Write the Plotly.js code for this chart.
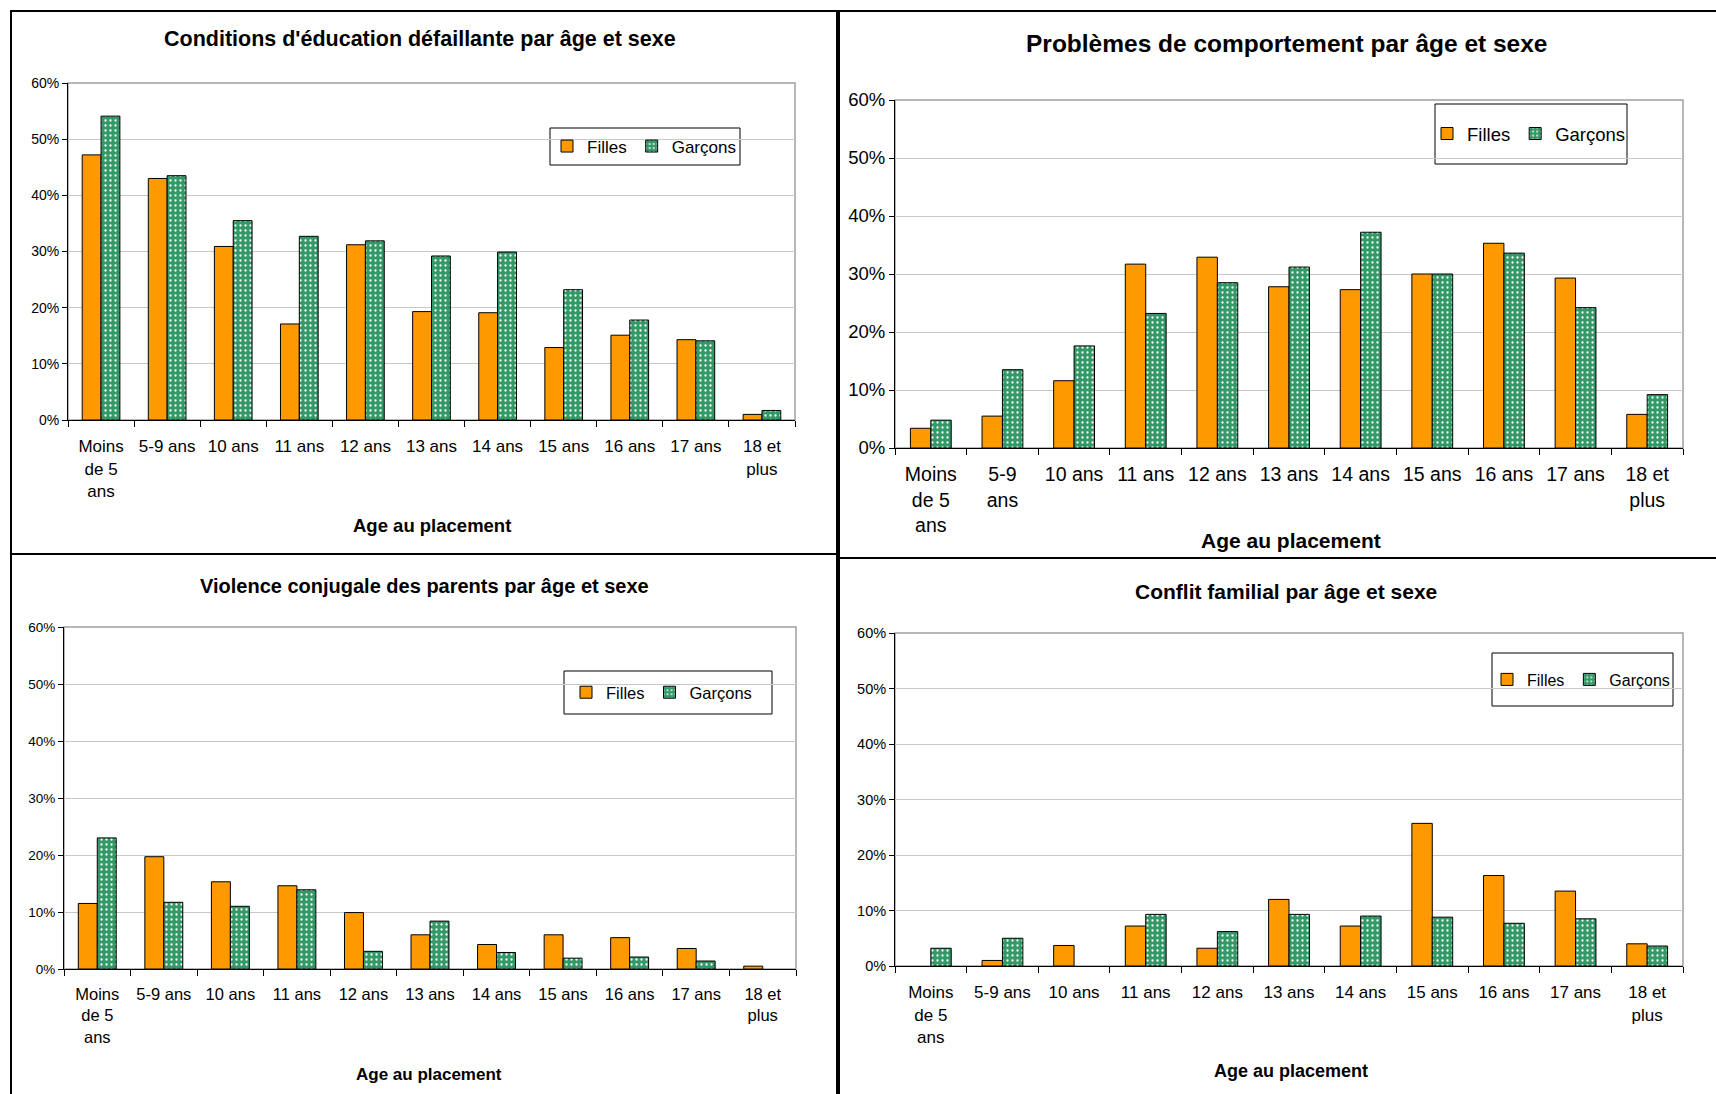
<!DOCTYPE html>
<html>
<head>
<meta charset="utf-8">
<script src="https://cdn.plot.ly/plotly-3.0.1.min.js"></script>
<style>
  html, body { margin: 0; padding: 0; background: #ffffff; overflow: hidden; }
  #chart { width: 1716px; height: 1094px; }
</style>
</head>
<body>
<div id="chart"></div>
<script>
// ---------------- DATA ----------------
const ageLabels = ["Moins<br>de 5<br>ans", "5-9 ans", "10 ans", "11 ans", "12 ans", "13 ans", "14 ans", "15 ans", "16 ans", "17 ans", "18 et<br>plus"];
const ageLabelsTR = ["Moins<br>de 5<br>ans", "5-9<br>ans", "10 ans", "11 ans", "12 ans", "13 ans", "14 ans", "15 ans", "16 ans", "17 ans", "18 et<br>plus"];
const seriesNames = ["Filles", "Garçons"];

const titles = [
  "Conditions d'éducation défaillante par âge et sexe",
  "Problèmes de comportement par âge et sexe",
  "Violence conjugale des parents par âge et sexe",
  "Conflit familial par âge et sexe"
];
const axisTitle = "Age au placement";
const yTicks = [0, 10, 20, 30, 40, 50, 60];

// Conditions d'éducation défaillante (%)
const educFilles   = [47.2, 43.0, 30.9, 17.1, 31.2, 19.3, 19.1, 12.9, 15.1, 14.3, 1.0];
const educGarcons  = [54.1, 43.5, 35.5, 32.7, 31.9, 29.2, 29.9, 23.2, 17.8, 14.1, 1.7];
// Problèmes de comportement (%)
const compFilles   = [3.4, 5.5, 11.6, 31.7, 32.9, 27.8, 27.3, 30.0, 35.3, 29.3, 5.8];
const compGarcons  = [4.8, 13.5, 17.6, 23.2, 28.5, 31.2, 37.2, 30.0, 33.6, 24.2, 9.2];
// Violence conjugale des parents (%)
const violFilles   = [11.5, 19.7, 15.3, 14.6, 9.9, 6.0, 4.3, 6.0, 5.5, 3.6, 0.5];
const violGarcons  = [23.0, 11.7, 11.0, 13.9, 3.1, 8.4, 2.9, 1.9, 2.1, 1.4, null];
// Conflit familial (%)
const confFilles   = [null, 1.0, 3.7, 7.2, 3.2, 12.0, 7.2, 25.7, 16.3, 13.5, 4.0];
const confGarcons  = [3.2, 5.0, null, 9.3, 6.2, 9.3, 9.0, 8.8, 7.7, 8.5, 3.6];

// ---------------- STYLE / LAYOUT ----------------
const W = 1716, H = 1094;
const FONT = "Liberation Sans, Arial, Helvetica, sans-serif";
const ORANGE = "#FF9900";
const GREEN = "#339966";
const fx = v => v / W;
const fy = v => 1 - v / H;

const panels = [
  { cats: ageLabels,   f: educFilles, g: educGarcons, ax: "", plot: [68, 795, 83, 420],
    border: [11, 837, 11, 554], title: [420, 39, 21.5], xt: [432, 526, 18.5], tick: [17, 14], stand: 11,
    legBox: [550, 740, 128, 165], legFont: 17, legX: 547 },
  { cats: ageLabelsTR, f: compFilles, g: compGarcons, ax: "2", plot: [895, 1683, 100, 448],
    border: [839, 1730, 11, 558], title: [1287, 44, 24.5], xt: [1291, 541, 21], tick: [19.5, 18.5], stand: 9,
    legBox: [1435, 1627, 104, 164], legFont: 18.5, legX: 1427 },
  { cats: ageLabels,   f: violFilles, g: violGarcons, ax: "3", plot: [64, 796, 627, 969],
    border: [11, 837, 554, 1110], title: [424, 586, 20], xt: [429, 1074, 17], tick: [16.5, 13.5], stand: 10,
    legBox: [564, 772, 671, 714], legFont: 16.5, legX: 566 },
  { cats: ageLabels,   f: confFilles, g: confGarcons, ax: "4", plot: [895, 1683, 633, 966],
    border: [839, 1730, 558, 1110], title: [1286, 591, 21], xt: [1291, 1071, 18], tick: [17, 14.5], stand: 11,
    legBox: [1492, 1673, 653, 706], legFont: 16, legX: 1487 }
];

const traces = [];
const layout = {
  width: W, height: H,
  autosize: false,
  margin: { l: 0, r: 0, t: 0, b: 0, autoexpand: false },
  paper_bgcolor: "#ffffff",
  plot_bgcolor: "#ffffff",
  font: { family: FONT, color: "#000000" },
  barmode: "group",
  bargap: 0.43,
  bargroupgap: 0,
  shapes: [],
  annotations: []
};

panels.forEach((p, i) => {
  const xa = "x" + p.ax, ya = "y" + p.ax;
  const legName = i === 0 ? "legend" : "legend" + (i + 1);
  traces.push({
    type: "bar", name: seriesNames[0], x: p.cats, y: p.f, xaxis: xa, yaxis: ya,
    legend: legName,
    marker: { color: ORANGE, line: { color: "#000000", width: 1 } },
    hoverinfo: "x+y"
  });
  traces.push({
    type: "bar", name: seriesNames[1], x: p.cats, y: p.g, xaxis: xa, yaxis: ya,
    legend: legName,
    marker: {
      color: GREEN, line: { color: "#000000", width: 1 },
      pattern: { shape: ".", fgcolor: "#ffffff", bgcolor: GREEN, size: 5, solidity: 0.16, fillmode: "replace" }
    },
    hoverinfo: "x+y"
  });

  layout["xaxis" + p.ax] = {
    domain: [fx(p.plot[0]), fx(p.plot[1])],
    anchor: ya,
    type: "category",
    showline: true, linecolor: "#000000", linewidth: 1,
    ticks: "outside", tickson: "boundaries", ticklen: 6, tickcolor: "#000000",
    ticklabelstandoff: p.stand,
    tickfont: { size: p.tick[0], family: FONT, color: "#000000" },
    showgrid: false, zeroline: false, fixedrange: true,
    tickangle: 0, automargin: false
  };
  layout["yaxis" + p.ax] = {
    domain: [fy(p.plot[3]), fy(p.plot[2])],
    anchor: xa,
    range: [0, 60],
    tickvals: yTicks,
    ticktext: yTicks.map(v => v + "%"),
    showline: true, linecolor: "#000000", linewidth: 1,
    ticks: "outside", ticklen: 5, tickcolor: "#000000",
    tickfont: { size: p.tick[1], family: FONT, color: "#000000" },
    showgrid: true, gridcolor: "#C8C8C8", gridwidth: 1,
    zeroline: false, fixedrange: true, automargin: false
  };

  // legend
  layout[legName] = {
    orientation: "h",
    x: fx(p.legX), xanchor: "left",
    y: fy((p.legBox[2] + p.legBox[3]) / 2), yanchor: "middle",
    bgcolor: "rgba(0,0,0,0)", borderwidth: 0,
    font: { size: p.legFont, family: FONT, color: "#000000" },
    itemclick: false, itemdoubleclick: false
  };

  // plot-area gray frame
  layout.shapes.push({
    type: "rect", xref: xa + " domain", yref: ya + " domain",
    x0: 0, x1: 1, y0: 0, y1: 1,
    line: { color: "#A0A0A0", width: 1.5 }, layer: "below"
  });
  // legend box
  layout.shapes.push({
    type: "rect", xref: "paper", yref: "paper",
    x0: fx(p.legBox[0]), x1: fx(p.legBox[1]), y0: fy(p.legBox[3]), y1: fy(p.legBox[2]),
    line: { color: "#000000", width: 1 }, fillcolor: "#ffffff", layer: "below"
  });
  // outer panel border
  layout.shapes.push({
    type: "rect", xref: "paper", yref: "paper",
    x0: fx(p.border[0]), x1: fx(p.border[1]), y0: fy(p.border[3]), y1: fy(p.border[2]),
    line: { color: "#000000", width: 2 }, layer: "above"
  });

  // chart title
  layout.annotations.push({
    xref: "paper", yref: "paper", x: fx(p.title[0]), y: fy(p.title[1]),
    xanchor: "center", yanchor: "middle", showarrow: false,
    text: "<b>" + titles[i] + "</b>",
    font: { size: p.title[2], family: FONT, color: "#000000" }
  });
  // x axis title
  layout.annotations.push({
    xref: "paper", yref: "paper", x: fx(p.xt[0]), y: fy(p.xt[1]),
    xanchor: "center", yanchor: "middle", showarrow: false,
    text: "<b>" + axisTitle + "</b>",
    font: { size: p.xt[2], family: FONT, color: "#000000" }
  });
});

Plotly.newPlot("chart", traces, layout, { displayModeBar: false, staticPlot: true });
</script>
</body>
</html>
